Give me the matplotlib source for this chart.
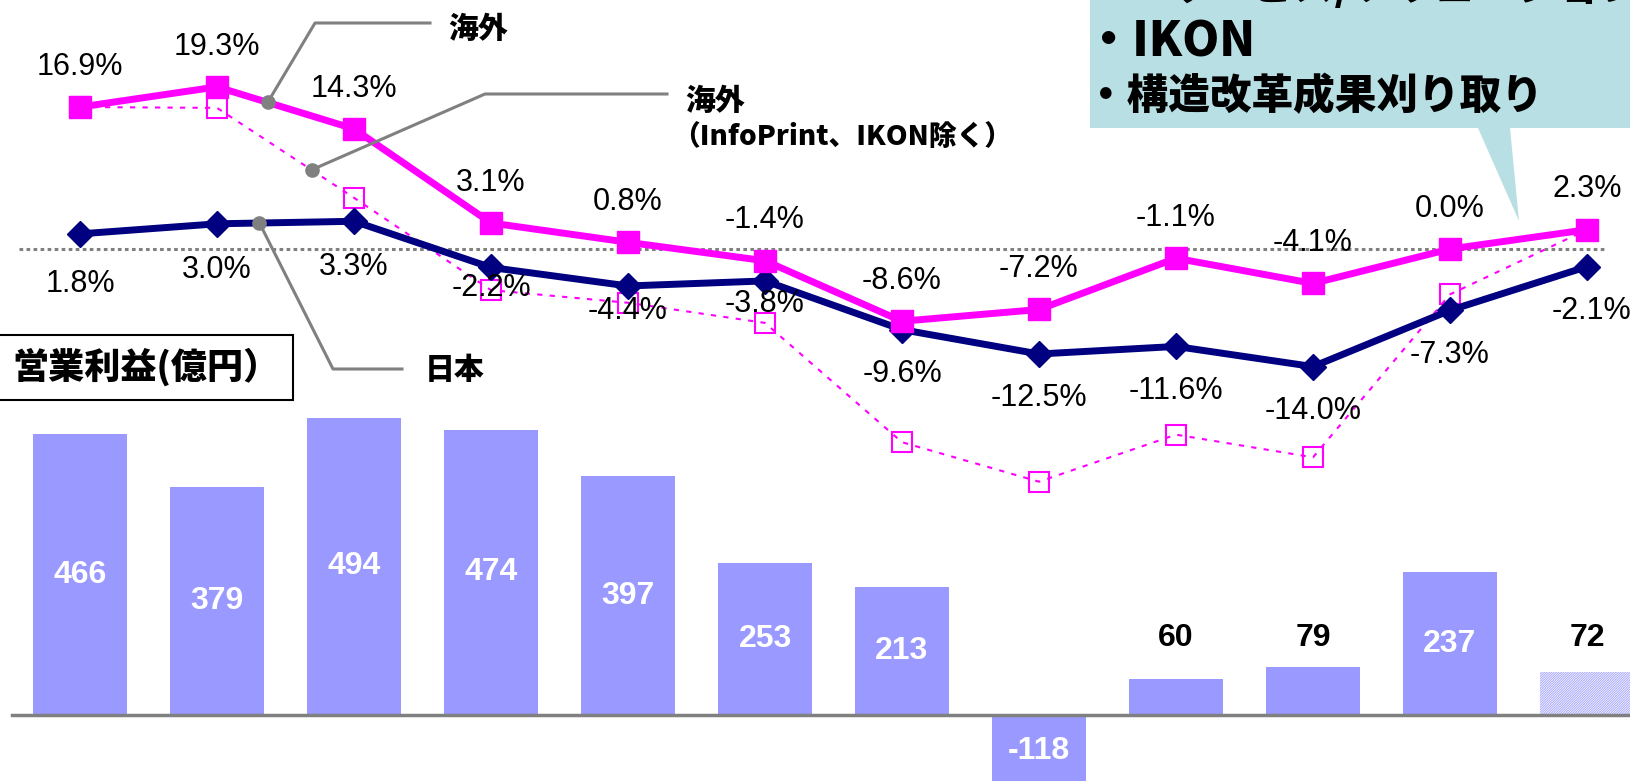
import matplotlib
matplotlib.use('Agg')
import matplotlib.pyplot as plt
from matplotlib.patches import Polygon, Rectangle
import numpy as np

plt.rcParams['font.family'] = ['Liberation Sans', 'Noto Sans CJK JP']
plt.rcParams['hatch.linewidth'] = 0.7
JP = ['Noto Sans CJK JP', 'Liberation Sans']

W, H = 1630, 781

# operating profit (100M yen), last one is the hatched (forecast) bar
profit = [466, 379, 494, 474, 397, 253, 213, -118, 60, 79, 237, 72]
forecast = [False] * 11 + [True]

# margins in %
overseas = [16.9, 19.3, 14.3, 3.1, 0.8, -1.4, -8.6, -7.2, -1.1, -4.1, 0.0, 2.3]
overseas_ex = [16.9, 16.8, 6.1, -4.9, -6.4, -8.8, -23.0, -27.7, -22.1, -24.8, -5.4, 2.3]
japan = [1.8, 3.0, 3.3, -2.2, -4.4, -3.8, -9.6, -12.5, -11.6, -14.0, -7.3, -2.1]

callout_lines = ['・ITサービス/ソリューション拡大', '・IKON', '・構造改革成果刈り取り']

MAGENTA = '#FF00FF'
NAVY = '#000080'
BAR = '#9999FF'
GRAY = '#808080'

x = np.arange(len(profit))

fig = plt.figure(figsize=(W / 100, H / 100), dpi=100)
ax = fig.add_axes([0, 0, 1, 1])
ax.set_xlim(-80 / 137, (W - 80) / 137)
ax.set_ylim(-66 / 0.602, 715 / 0.602)
ax.axis('off')

ax2 = ax.twinx()
ax2.set_ylim(-(H - 249) / 8.4, 249 / 8.4)
ax2.axis('off')


def px(xp, yp):
    # pixel from top-left -> data coords of line axes
    return ax2.transData.inverted().transform((xp, H - yp))


# bars
for i, v in enumerate(profit):
    if forecast[i]:
        ax.bar(x[i], v, width=0.68, facecolor='white', edgecolor='#A8A8FF',
               hatch='/' * 14, linewidth=0)
    else:
        ax.bar(x[i], v, width=0.68, color=BAR, linewidth=0)
    if v >= 100 or v < 0:
        ax.text(x[i], v / 2, f'{v}', ha='center', va='center', color='white',
                fontsize=23, fontweight='bold')
    else:
        ax.text(x[i], 128, f'{v}', ha='center', va='center', color='black',
                fontsize=23, fontweight='bold')

ax.axhline(0, xmin=12 / W, xmax=1, color=GRAY, lw=2.5)

# zero line for margins
ax2.axhline(0, xmin=19 / W, xmax=1606 / W, color=GRAY, lw=2.2, ls=(0, (1.2, 1.1)))

# lines
ax2.plot(x, overseas_ex, color=MAGENTA, lw=1.5, ls=(0, (2.5, 3.5)), marker='s',
         ms=14, mfc='none', mec=MAGENTA, mew=1.5)
ax2.plot(x, japan, color=NAVY, lw=5, marker='D', ms=13)
ax2.plot(x, overseas, color=MAGENTA, lw=5, marker='s', ms=16.5)

for i, v in enumerate(overseas):
    ax2.annotate(f'{v:.1f}%', (x[i], v), xytext=(0, 29), textcoords='offset points',
                 ha='center', va='center', fontsize=22)

jp_off = [36, 33, 33, 15, 18, 16.5, 32, 32, 32, 32, 32, 32]
jp_dx = [0] * 11 + [3]
for i, v in enumerate(japan):
    ax2.annotate(f'{v:.1f}%', (x[i], v), xytext=(jp_dx[i], -jp_off[i]),
                 textcoords='offset points', ha='center', va='center', fontsize=22)

# leader lines
leaders = [
    (1.37, overseas, (315, 23), (430, 23)),
    (1.69, overseas_ex, (485, 94), (667, 94)),
    (1.31, japan, (333, 369), (402, 369)),
]
for xd, series, elbow, end in leaders:
    yd = np.interp(xd, x, series)
    e = px(*elbow)
    t = px(*end)
    ax2.plot([xd, e[0], t[0]], [yd, e[1], t[1]], color=GRAY, lw=2.2, clip_on=False)
    ax2.plot(xd, yd, 'o', color=GRAY, ms=9.5)

fig.text(448 / W, 1 - 28 / H, '海外', family=JP, fontweight='heavy', fontsize=21.5,
         ha='left', va='center')
fig.text(685 / W, 1 - 100 / H, '海外', family=JP, fontweight='heavy', fontsize=21.5,
         ha='left', va='center')
fig.text(672 / W, 1 - 137 / H, '（InfoPrint、IKON除く）', family=JP, fontweight='heavy',
         fontsize=20, ha='left', va='center')
fig.text(425 / W, 1 - 370 / H, '日本', family=JP, fontweight='heavy', fontsize=21.5,
         ha='left', va='center')

# label box
fig.add_artist(Rectangle((-5 / W, 1 - 400 / H), 298 / W, 65 / H, transform=fig.transFigure,
                         facecolor='white', edgecolor='black', lw=1.5))
fig.text(12 / W, 1 - 367 / H, '営業利益(億円）', family=JP, fontweight='heavy', fontsize=26,
         ha='left', va='center')

# callout
pts = [(1090, -5), (1640, -5), (1640, 128), (1510, 128), (1519, 221), (1478, 128), (1090, 128)]
fig.add_artist(Polygon([(a / W, 1 - b / H) for a, b in pts], closed=True,
                       transform=fig.transFigure, facecolor='#B8DFE3', edgecolor='none'))
callout_y = [-13, 42, 97]
callout_size = [30, 34, 30]
for k, line in enumerate(callout_lines):
    fig.text(1085 / W, 1 - callout_y[k] / H, line, family=JP, fontweight='heavy',
             fontsize=callout_size[k], ha='left', va='center')

fig.savefig('out.png', dpi=100)
